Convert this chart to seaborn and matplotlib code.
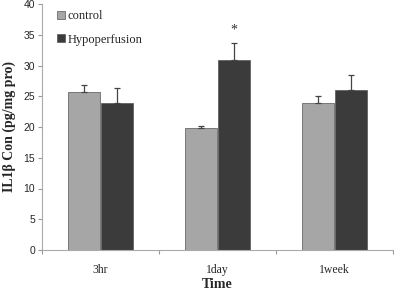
import pandas as pd
import matplotlib
matplotlib.use('Agg')
import matplotlib.pyplot as plt
import seaborn as sns

# Data
times = ['3hr', '1day', '1week']
groups = ['control', 'Hypoperfusion']
control = [25.7, 19.9, 23.9]
hypo = [23.9, 30.9, 26.0]
control_err = [1.1, 0.2, 1.1]
hypo_err = [2.5, 2.8, 2.5]

df = pd.DataFrame({
    'Time': times * 2,
    'group': [groups[0]] * 3 + [groups[1]] * 3,
    'value': control + hypo,
})

sns.set_style('white')
plt.rcParams['font.family'] = ['Liberation Serif', 'DejaVu Serif']

fig = plt.figure(figsize=(3.94, 2.91), dpi=100)
ax = fig.add_axes([42 / 394, 41 / 291, 351 / 394, 246 / 291])

sns.barplot(data=df, x='Time', y='value', hue='group', order=times, hue_order=groups,
            palette=['#a6a6a6', '#3b3b3b'], width=0.57, gap=0.03, errorbar=None,
            edgecolor='#555555', linewidth=0.5, ax=ax)

# upward error bars on top of each bar
errs = {groups[0]: control_err, groups[1]: hypo_err}
for cont, g in zip(ax.containers, groups):
    xs = [p.get_x() + p.get_width() / 2 for p in cont.patches]
    ys = [p.get_height() for p in cont.patches]
    e = errs[g]
    ax.errorbar(xs, ys, yerr=[[0] * len(e), e], fmt='none', ecolor='#444444',
                elinewidth=0.9, capsize=2.5, capthick=0.9)
    if g == 'Hypoperfusion':
        ax.text(xs[1], ys[1] + e[1] + 2.0, '*', ha='center', va='center', fontsize=10, color='#333333')

ax.set_ylim(0, 40)
ax.set_xlim(-0.5, 2.5)
ax.set_yticks(range(0, 41, 5))
ax.set_xticks([-0.5, 0.5, 1.5, 2.5], minor=False)
ax.set_xticklabels([])
ax.set_xticks([0, 1, 2], minor=True)
ax.set_xticklabels(times, minor=True, fontsize=8.5)
ax.tick_params(axis='x', which='minor', length=0, pad=10)
ax.tick_params(axis='x', which='major', length=3, color='#999999', direction='out', bottom=True)
ax.tick_params(axis='y', length=3, color='#999999', direction='out', left=True, labelsize=7.5, pad=2)
for lbl in ax.get_yticklabels():
    lbl.set_family(['Liberation Sans', 'DejaVu Sans'])

for s in ['top', 'right']:
    ax.spines[s].set_visible(False)
for s in ['left', 'bottom']:
    ax.spines[s].set_color('#aaaaaa')
    ax.spines[s].set_linewidth(0.8)

ax.set_xlabel('Time', fontsize=10, fontweight='bold', va='center')
ax.xaxis.set_label_coords(0.5, -35 / 246)
ax.set_ylabel('IL1β Con (pg/mg pro)', fontsize=10, fontweight='bold', labelpad=5)

leg = ax.legend(loc='upper left', bbox_to_anchor=(0.012, 1.02), frameon=False, fontsize=9,
                handlelength=0.6, handleheight=0.6, handletextpad=0.2, labelspacing=0.9)

fig.savefig('out.png', dpi=100)
